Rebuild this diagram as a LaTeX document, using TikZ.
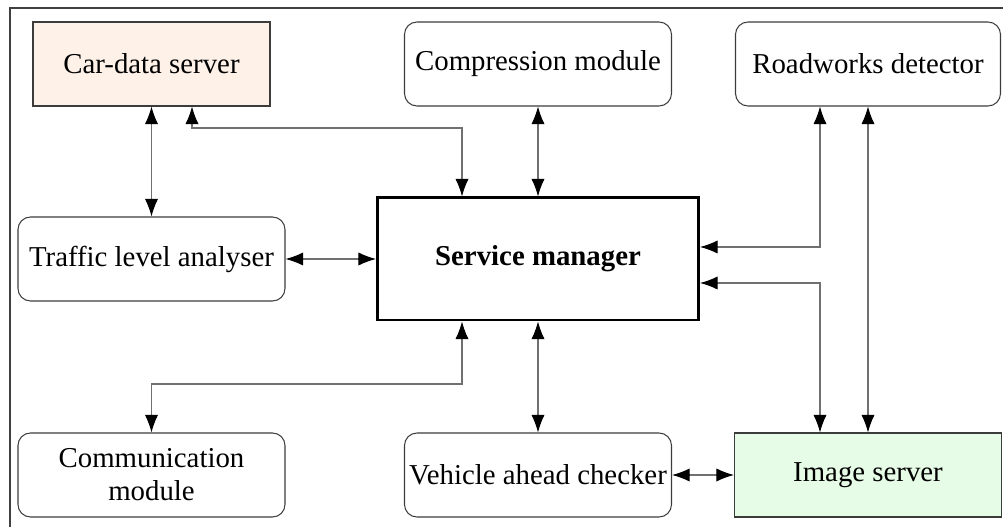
\documentclass[tikz,border=0pt]{standalone}
\usepackage{fontspec}
\setmainfont{Liberation Serif}
\usetikzlibrary{arrows.meta}

\definecolor{linegray}{RGB}{112,112,112}
\definecolor{boxgray}{RGB}{60,60,60}
\definecolor{peach}{RGB}{253,241,232}
\definecolor{mint}{RGB}{231,252,231}

\tikzset{
	module/.style={draw=boxgray, line width=0.6pt, rounded corners=0.25cm,
		minimum width=5.34cm, minimum height=1.68cm, inner sep=1pt, align=center,
		font=\fontsize{16.4pt}{18.8pt}\selectfont},
	server/.style={module, rounded corners=0pt},
	manager/.style={module, draw=black, line width=1.7pt, rounded corners=0pt,
		minimum width=6.42cm, minimum height=2.44cm, font=\fontsize{16.4pt}{18.8pt}\selectfont\bfseries},
	link/.style={draw=linegray, line width=0.6pt, <->},
	>={Latex[length=10pt,width=7.5pt,color=black]}
}

\begin{document}
\begin{tikzpicture}
			\useasboundingbox (0,0) rectangle (20.06,10.54);
			\draw[line width=0.6pt, black!75] (0.2,-0.3) -- (0.2,10.38) -- (20.3,10.38);

			\node[server, fill=peach, minimum width=4.74cm] (cds) at (3.03,9.26) {Car-data server};
			\node[module] (comp) at (10.76,9.26) {Compression module};
			\node[module, minimum width=5.3cm] (road) at (17.36,9.26) {Roadworks detector};
			\node[module] (tla) at (3.03,5.36) {Traffic level analyser};
			\node[manager] (sm) at (10.76,5.36) {Service manager};
			\node[module] (cm) at (3.03,1.04) {Communication\\module};
			\node[module] (vac) at (10.76,1.04) {Vehicle ahead checker};
			\node[server, fill=mint] (img) at (17.36,1.04) {Image server};

			\coordinate (c1) at (3.84,7.98);
			\coordinate (c2) at (9.24,7.98);
			\coordinate (r1) at (16.4,5.6);
			\coordinate (r2) at (16.4,4.88);
			\coordinate (d1) at (9.24,2.86);

			\draw[link] (cds.south) -- (tla.north);
			\draw[link] (cds.south -| c1) -- (c1) -- (c2) -- (c2 |- sm.north);
			\draw[link] (comp.south) -- (sm.north);
			\draw[link] (tla.east) -- (sm.west);
			\draw[link] (road.south -| r1) -- (r1) -- (r1 -| sm.east);
			\draw[link] (road.south) -- (img.north);
			\draw[link] (img.north -| r2) -- (r2) -- (r2 -| sm.east);
			\draw[link] (sm.south -| d1) -- (d1) -- (d1 -| cm.north) -- (cm.north);
			\draw[link] (sm.south) -- (vac.north);
			\draw[link] (vac.east) -- (img.west);
		\end{tikzpicture}
\end{document}
